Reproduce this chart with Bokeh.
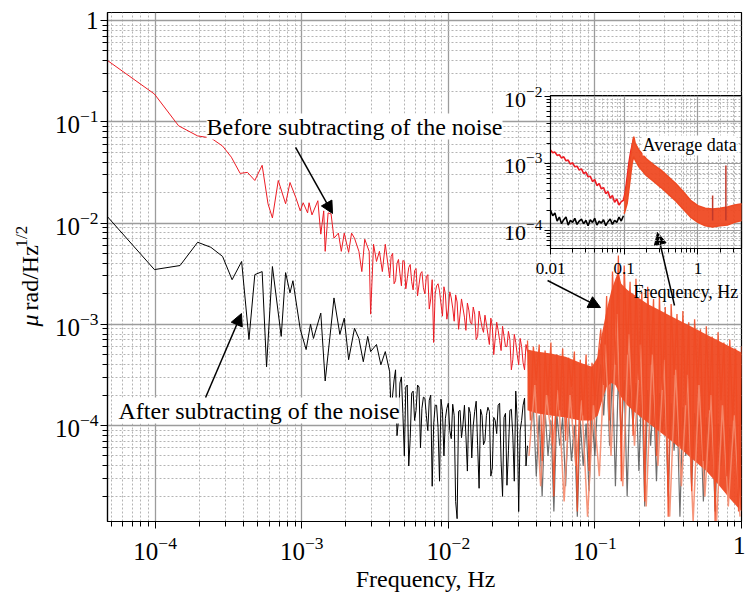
import numpy as np
from bokeh.plotting import figure
from bokeh.models import (FixedTicker, Label, Arrow, NormalHead)
from bokeh.embed import file_html
from bokeh.resources import INLINE

# ---------------- data (log10 values) ----------------
# "Before subtracting of the noise" (red), low-frequency part
before_logf = [-4.33,-4.005,-3.84,-3.71,-3.62,-3.54,-3.48,-3.42,-3.37,-3.32,-3.27,-3.23,-3.20,-3.16,-3.11,
               -3.08,-3.04,-3.01,-2.99,-2.96,-2.95,-2.93,-2.89,-2.87,-2.85,-2.84,-2.82,-2.80,-2.78,-2.75,
               -2.73,-2.71,-2.68,-2.66,-2.64,-2.61,-2.59,-2.57,-2.54,-2.53,-2.51,-2.49,-2.47,-2.45,-2.43]
before_logA = [-0.39,-0.726,-1.04,-1.14,-1.16,-1.24,-1.35,-1.51,-1.50,-1.58,-1.43,-1.81,-1.95,-1.58,-1.81,
               -1.60,-1.75,-1.88,-1.80,-1.90,-1.80,-1.92,-1.78,-2.11,-1.88,-2.28,-1.90,-1.91,-2.15,-2.10,
               -2.28,-2.10,-2.29,-2.10,-2.15,-2.28,-2.48,-2.16,-2.28,-2.90,-2.21,-2.38,-2.28,-2.48,-2.21]
# dense noisy part (frequency bins shared by both series)
dense_logf = [-2.40,-2.38,-2.36,-2.34,-2.32,-2.30,-2.28,-2.26,-2.24,-2.22,-2.20,-2.18,-2.16,-2.14,-2.12,-2.10,
              -2.08,-2.06,-2.04,-2.02,-2.00,-1.98,-1.96,-1.94,-1.92,-1.90,-1.88,-1.86,-1.84,-1.82,-1.80,-1.78,
              -1.76,-1.74,-1.72,-1.70,-1.68,-1.66,-1.64,-1.62,-1.60,-1.58,-1.56,-1.54,-1.52,-1.50,-1.48,-1.46]
dense2_logf = [-2.39,-2.37,-2.35,-2.33,-2.31,-2.29,-2.27,-2.25,-2.23,-2.21,-2.19,-2.17,-2.15,-2.13,-2.11,-2.09,
               -2.07,-2.05,-2.03,-2.01,-1.99,-1.97,-1.95,-1.93,-1.91,-1.89,-1.87,-1.85,-1.83,-1.81,-1.79,-1.77,
               -1.75,-1.73,-1.71,-1.69,-1.67,-1.65,-1.63,-1.61,-1.59,-1.57,-1.55,-1.53,-1.51,-1.49,-1.47]
before_dense_logA = [-2.54,-2.30,-2.57,-2.36,-2.62,-2.38,-2.55,-2.41,-2.66,-2.45,-2.61,-2.48,-2.70,-2.51,-2.75,-3.18,
                     -2.62,-2.67,-2.92,-2.70,-2.86,-2.74,-2.97,-2.78,-2.90,-2.84,-3.06,-2.86,-3.00,-2.90,-3.12,-2.95,
                     -3.08,-3.00,-3.20,-3.02,-3.14,-3.06,-3.26,-3.12,-3.22,-3.15,-3.35,-3.18,-3.40,-3.22,-3.45,-3.27]
before_dense2_logA = [-2.33,-2.60,-2.40,-2.50,-2.37,-2.65,-2.44,-2.58,-2.47,-2.72,-2.50,-2.64,-2.53,-2.85,-2.56,-2.70,
                      -2.60,-2.80,-2.63,-2.95,-2.68,-2.84,-2.71,-3.05,-2.75,-2.93,-2.79,-2.98,-2.83,-3.15,-2.87,-3.03,
                      -2.91,-3.10,-2.94,-3.30,-2.98,-3.16,-3.02,-3.22,-3.07,-3.45,-3.10,-3.30,-3.14,-3.38,-3.20]
# "After subtracting of the noise" (black)
after_logf = [-4.33,-4.005,-3.83,-3.71,-3.62,-3.54,-3.475,-3.41,-3.36,-3.32,-3.27,-3.24,-3.20,-3.14,-3.11,-3.08,
              -3.06,-3.01,-2.97,-2.94,-2.92,-2.87,-2.84,-2.80,-2.78,-2.74,-2.71,-2.68,-2.64,-2.61,-2.58,-2.55,
              -2.53,-2.49,-2.46,-2.43]
after_logA = [-1.93,-2.46,-2.42,-2.19,-2.24,-2.33,-2.56,-2.38,-3.15,-2.51,-2.48,-3.42,-2.43,-3.12,-2.49,-2.69,
              -2.57,-3.05,-3.25,-3.00,-3.14,-2.89,-3.56,-3.02,-2.74,-3.10,-2.94,-3.35,-3.04,-3.14,-3.37,-3.12,
              -3.27,-3.20,-3.40,-3.27]
after_dense_logA = [-3.47,-3.70,-3.45,-3.95,-3.52,-4.30,-3.60,-4.13,-3.66,-3.85,-3.62,-3.83,-3.73,-4.05,-3.70,-3.99,
                    -3.80,-4.55,-3.86,-3.93,-3.78,-4.13,-3.90,-4.92,-3.85,-3.99,-4.10,-3.82,-4.32,-3.86,-4.20,-3.84,
                    -4.19,-3.90,-3.86,-4.42,-3.95,-3.80,-4.35,-3.92,-4.59,-3.85,-4.10,-3.66,-4.85,-3.95,-3.73,-4.20]
after_dense2_logA = [-3.90,-3.55,-4.10,-3.58,-3.88,-3.62,-4.40,-3.68,-3.95,-3.60,-4.22,-3.72,-3.90,-3.75,-4.60,-3.80,
                     -4.02,-3.74,-4.30,-3.83,-4.05,-3.79,-4.75,-3.86,-4.12,-3.80,-4.45,-3.88,-4.00,-3.76,-4.62,-3.90,
                     -4.15,-3.82,-4.50,-3.92,-4.08,-3.78,-4.70,-3.88,-4.25,-3.84,-4.55,-3.95,-4.05,-3.80,-4.40]
# high-frequency "average data" bundle
avg_logf = [-1.46,-1.44,-1.42,-1.40,-1.38,-1.36,-1.34,-1.32,-1.30,-1.28,-1.26,-1.24,-1.22,-1.20,-1.18,-1.16,-1.14,
            -1.12,-1.10,-1.08,-1.06,-1.04,-1.02,-1.00,-0.98,-0.96,-0.94,-0.92,-0.90,-0.88,-0.86,-0.84,-0.82,-0.80,
            -0.78,-0.76,-0.74,-0.72,-0.70,-0.68,-0.66,-0.64,-0.62,-0.60,-0.58,-0.56,-0.54,-0.52,-0.50,-0.48,-0.46,
            -0.44,-0.42,-0.40,-0.38,-0.36,-0.34,-0.32,-0.30,-0.28,-0.26,-0.24,-0.22,-0.20,-0.18,-0.16,-0.14,-0.12,
            -0.10,-0.08,-0.06,-0.04,-0.02,0.00]
after_avg_logA = [-4.05,-3.80,-4.50,-3.90,-4.70,-3.85,-4.30,-3.95,-4.85,-3.88,-4.20,-3.92,-4.60,-3.90,-4.35,-4.00,
                  -4.90,-3.95,-4.40,-3.98,-4.65,-3.90,-4.30,
                  -3.70,-3.40,-3.90,-3.35,-4.20,-3.45,-4.60,-3.50,-4.10,-3.55,-4.70,-3.60,-4.00,-3.58,-4.45,-3.62,
                  -4.80,-3.65,-4.20,-3.70,-4.55,-3.68,-4.05,-3.75,-4.70,-3.78,-4.25,-3.80,-4.90,-3.82,-4.30,-3.85,
                  -4.60,-3.88,-4.15,-3.90,-4.75,-3.92,-4.35,-3.95,-4.85,-3.98,-4.40,-4.00,-4.65,-4.02,-4.30,-4.05,
                  -4.80,-4.05]
before_avg_logA = [-3.16,-3.95,-3.22,-3.55,-3.20,-4.35,-3.26,-3.70,-3.18,-4.70,-3.30,-3.85,-3.24,-4.15,-3.33,-3.62,
                   -3.27,-4.85,-3.35,-3.90,-3.30,-4.45,-3.38,-3.75,-3.34,
                   -3.05,-3.60,-2.72,-3.95,-2.48,-3.40,-2.32,-4.55,-2.42,-3.30,-2.58,-4.10,-2.55,-3.55,-2.68,-4.75,
                   -2.63,-3.40,-2.75,-4.30,-2.72,-3.65,-2.83,-4.90,-2.80,-3.50,-2.90,-4.20,-2.87,-3.80,-2.98,-4.65,
                   -2.95,-3.60,-3.05,-4.35,-3.02,-3.85,-3.12,-4.95,-3.08,-3.75,-3.18,-4.50,-3.15,-3.95,-3.24,-4.85,
                   -3.22]
light_logf = [-1.45,-1.41,-1.37,-1.33,-1.29,-1.25,-1.21,-1.17,-1.13,-1.09,-1.05,-1.01,-0.97,-0.93,-0.89,-0.85,
              -0.81,-0.77,-0.73,-0.69,-0.65,-0.61,-0.57,-0.53,-0.49,-0.45,-0.41,-0.37,-0.33,-0.29,-0.25,-0.21,
              -0.17,-0.13,-0.09,-0.05,-0.01]
light_logA = [-4.30,-3.60,-4.60,-3.70,-4.20,-3.65,-4.75,-3.70,-4.40,-3.75,-4.90,-3.80,-4.50,-3.20,-4.30,-2.90,
              -4.60,-3.10,-4.20,-3.20,-4.80,-3.30,-4.40,-3.35,-4.90,-3.45,-4.60,-3.50,-4.95,-3.60,-4.70,-3.70,
              -4.95,-3.80,-4.80,-3.90,-4.90]
band_logf = [-1.46,-1.40,-1.30,-1.20,-1.10,-1.02,-0.98,-0.95,-0.92,-0.89,-0.86,-0.84,-0.82,-0.78,-0.72,-0.64,
             -0.56,-0.48,-0.40,-0.32,-0.24,-0.16,-0.08,0.00]
band_hi_logA = [-3.25,-3.27,-3.29,-3.32,-3.38,-3.42,-3.32,-3.08,-2.86,-2.68,-2.55,-2.48,-2.60,-2.66,-2.72,-2.80,
                -2.86,-2.92,-2.98,-3.04,-3.10,-3.16,-3.22,-3.28]
band_lo_logA = [-3.85,-3.88,-3.90,-3.92,-3.95,-3.95,-3.90,-3.75,-3.62,-3.58,-3.60,-3.66,-3.72,-3.80,-3.88,-3.97,
                -4.06,-4.15,-4.25,-4.35,-4.45,-4.58,-4.72,-4.85]

# inset: averaged spectra
ins_logf = [-2.00,-1.97,-1.94,-1.91,-1.88,-1.85,-1.82,-1.79,-1.76,-1.73,-1.70,-1.67,-1.64,-1.61,-1.58,-1.55,-1.52,
            -1.49,-1.46,-1.43,-1.40,-1.37,-1.34,-1.31,-1.28,-1.25,-1.22,-1.19,-1.16,-1.13,-1.10,-1.07,-1.04,-1.01]
ins_before_logA = [-2.80,-2.84,-2.83,-2.88,-2.87,-2.92,-2.90,-2.96,-2.95,-3.01,-2.99,-3.05,-3.04,-3.10,-3.08,-3.15,
                   -3.13,-3.20,-3.19,-3.27,-3.24,-3.33,-3.30,-3.38,-3.36,-3.45,-3.42,-3.52,-3.48,-3.58,-3.53,-3.62,
                   -3.57,-3.55]
ins_rise_logf = [-0.99,-0.97,-0.95,-0.93,-0.91,-0.89,-0.87]
ins_rise_logA = [-3.45,-3.30,-3.12,-2.95,-2.82,-2.72,-2.62]
ins_after_logA = [-3.70,-3.78,-3.74,-3.86,-3.80,-3.90,-3.84,-3.80,-3.92,-3.85,-3.88,-3.82,-3.91,-3.86,-3.83,-3.90,
                  -3.85,-3.93,-3.84,-3.88,-3.82,-3.92,-3.86,-3.89,-3.84,-3.93,-3.87,-3.83,-3.91,-3.85,-3.88,-3.80,
                  -3.86,-3.78]
ins_band_logf = [-1.00,-0.96,-0.92,-0.89,-0.87,-0.85,-0.80,-0.70,-0.60,-0.50,-0.40,-0.30,-0.20,-0.10,0.00,0.10,
                 0.20,0.30,0.40,0.50,0.60]
ins_band_hi = [-3.55,-3.30,-2.95,-2.72,-2.60,-2.70,-2.80,-2.93,-3.02,-3.10,-3.20,-3.30,-3.42,-3.55,-3.63,-3.67,
               -3.68,-3.67,-3.65,-3.62,-3.60]
ins_band_lo = [-3.75,-3.60,-3.25,-2.98,-2.90,-2.95,-3.05,-3.18,-3.27,-3.36,-3.46,-3.56,-3.68,-3.80,-3.88,-3.93,
               -3.95,-3.93,-3.92,-3.88,-3.85]
ins_spike_logf = [0.20, 0.38]
ins_spike_top = [-3.48, -3.03]
ins_spike_base = [-3.85, -3.85]

# tick values / labels
main_x_ticks = [1e-4, 1e-3, 1e-2, 1e-1, 1.0]
main_y_ticks = [1e-4, 1e-3, 1e-2, 1e-1, 1.0]
ins_x_ticks = [0.01, 0.1, 1.0]
ins_x_labels = ["0.01", "0.1", "1"]
ins_y_ticks = [1e-4, 1e-3, 1e-2]

RED = "#ec1c24"
ORANGE = "#ef4a23"
FONT = "Liberation Serif"

def p10(a):
    return list(10.0 ** np.array(a, dtype=float))

def merged(f1, a1, f2, a2):
    order = np.argsort(np.array(f1 + f2))
    return list(np.array(f1 + f2)[order]), list(np.array(a1 + a2)[order])

def minors(decades, lo, hi):
    out = []
    for d in decades:
        for m in range(2, 10):
            v = m * 10.0 ** d
            if lo <= v <= hi:
                out.append(v)
    return out

W, H = 737, 587
ABS = {"position": "absolute", "left": "8px", "top": "8px"}

# ---------------- main figure ----------------
p = figure(width=W, height=H, x_axis_type="log", y_axis_type="log",
           x_range=(10 ** -4.325, 1.0), y_range=(10 ** -4.948, 10 ** 0.079),
           output_backend="svg", toolbar_location=None,
           min_border_left=99, min_border_right=4, min_border_top=4, min_border_bottom=74,
           background_fill_color="white", border_fill_color="white")
p.styles = ABS
p.outline_line_color = "black"
p.outline_line_width = 1.2

for ax, ticks, lo, hi in ((p.xaxis[0], main_x_ticks, 10 ** -4.325, 1.0),
                          (p.yaxis[0], main_y_ticks, 10 ** -4.948, 1.2)):
    ax.ticker = FixedTicker(ticks=ticks, minor_ticks=minors(range(-5, 1), lo, hi))
    ax.major_label_overrides = {1.0: "1"}
    ax.major_label_text_font = FONT
    ax.major_label_text_font_size = "25px"
    ax.major_label_text_color = "black"
    ax.axis_line_color = "black"
    ax.axis_line_width = 1.2
    ax.major_tick_line_color = "black"
    ax.minor_tick_line_color = "black"
    ax.major_tick_in = 0
    ax.minor_tick_in = 0
    ax.major_tick_out = 7
    ax.minor_tick_out = 5
p.xaxis.major_label_standoff = 8
p.yaxis.major_label_standoff = 2

for g in (p.xgrid[0], p.ygrid[0]):
    g.grid_line_color = "#9c9c9c"
    g.grid_line_width = 1.3
    g.minor_grid_line_color = "#b4b4b4"
    g.minor_grid_line_dash = "2 2"
    g.minor_grid_line_width = 1

# data
bd_f, bd_a = merged(dense_logf, before_dense_logA, dense2_logf, before_dense2_logA)
ad_f, ad_a = merged(dense_logf, after_dense_logA, dense2_logf, after_dense2_logA)
gray_logf = avg_logf[1:]
p.line(p10(gray_logf), p10(after_avg_logA), line_color="#555555", line_width=1.2, line_alpha=0.85)
p.line(p10(after_logf + ad_f), p10(after_logA + ad_a), line_color="black", line_width=1)
p.line(p10(before_logf + bd_f), p10(before_logA + bd_a), line_color=RED, line_width=1)
p.varea(x=p10(band_logf), y1=p10(band_lo_logA), y2=p10(band_hi_logA), fill_color=ORANGE, fill_alpha=0.95)
p.line(p10(light_logf), p10(light_logA), line_color="#f58a6c", line_width=1.5, line_alpha=0.9)
p.line(p10(avg_logf), p10(before_avg_logA), line_color=ORANGE, line_width=1.3, line_alpha=0.9)

# annotations
p.add_layout(Label(x=10 ** -3.649, y=10 ** -1.047, text="Before subtracting of the noise",
                   text_font=FONT, text_font_size="24px", text_align="left", text_baseline="middle",
                   text_color="black", background_fill_color="white"))
p.add_layout(Label(x=10 ** -4.25, y=10 ** -3.852, text="After subtracting of the noise",
                   text_font=FONT, text_font_size="24px", text_align="left", text_baseline="middle",
                   text_color="black", background_fill_color="white"))
for (x0, y0, x1, y1) in ((-3.042, -1.254, -2.790, -1.906),
                         (-3.656, -3.723, -3.411, -2.894),
                         (-1.323, -2.568, -0.962, -2.835),
                         (-0.457, -2.815, -0.573, -2.094)):
    p.add_layout(Arrow(end=NormalHead(size=12, fill_color="black", line_color="black"),
                       x_start=10 ** x0, y_start=10 ** y0, x_end=10 ** x1, y_end=10 ** y1,
                       line_color="black", line_width=1.5))

# ---------------- inset figure (overlaid) ----------------
q = figure(width=W, height=H, x_axis_type="log", y_axis_type="log",
           x_range=(0.01, 10 ** 0.592), y_range=(10 ** -4.27, 10 ** -1.985),
           output_backend="svg", toolbar_location=None,
           min_border_left=542, min_border_right=4, min_border_top=87, min_border_bottom=347,
           background_fill_color=None, border_fill_color=None)
q.styles = ABS
q.outline_line_color = "black"
q.outline_line_width = 1.2
q.xaxis.ticker = FixedTicker(ticks=ins_x_ticks, minor_ticks=minors(range(-2, 1), 0.01, 3.9))
q.yaxis.ticker = FixedTicker(ticks=ins_y_ticks, minor_ticks=minors(range(-5, -1), 5.3e-5, 0.0104))
q.xaxis.major_label_overrides = dict(zip(ins_x_ticks, ins_x_labels))
q.xaxis.major_label_text_font_size = "17px"
q.yaxis.major_label_text_font_size = "22px"
q.xaxis.major_label_standoff = 8
q.yaxis.major_label_standoff = 2
for ax in (q.xaxis[0], q.yaxis[0]):
    ax.major_label_text_font = FONT
    ax.major_label_text_color = "black"
    ax.axis_line_color = "black"
    ax.major_tick_line_color = "black"
    ax.minor_tick_line_color = "black"
    ax.major_tick_in = 0
    ax.minor_tick_in = 0
    ax.major_tick_out = 6
    ax.minor_tick_out = 4
for g in (q.xgrid[0], q.ygrid[0]):
    g.grid_line_color = "#9c9c9c"
    g.grid_line_width = 1.2
    g.minor_grid_line_color = "#b4b4b4"
    g.minor_grid_line_dash = "2 2"
    g.minor_grid_line_width = 1

q.line(p10(ins_logf), p10(ins_after_logA), line_color="black", line_width=1.6)
q.line(p10(ins_logf + ins_rise_logf), p10(ins_before_logA + ins_rise_logA), line_color=RED, line_width=1.6)
q.varea(x=p10(ins_band_logf), y1=p10(ins_band_lo), y2=p10(ins_band_hi), fill_color=ORANGE, fill_alpha=0.95)
q.line(p10(ins_band_logf), p10(ins_band_hi), line_color=ORANGE, line_width=1.5)
q.line(p10(ins_band_logf), p10(ins_band_lo), line_color=ORANGE, line_width=1.5)
q.segment(x0=p10(ins_spike_logf), y0=p10(ins_spike_base), x1=p10(ins_spike_logf), y1=p10(ins_spike_top),
          line_color="#c0392b", line_width=1.5)
q.add_layout(Label(x=10 ** -0.75, y=10 ** -2.73, text="Average data",
                   text_font=FONT, text_font_size="18px", text_align="left", text_baseline="middle",
                   text_color="black", background_fill_color="white"))

# ---------------- overlay for texts outside the frames (pixel coordinates) ----------------
t = figure(width=W, height=H, x_range=(0, W), y_range=(H, 0), x_axis_location=None, y_axis_location=None,
           output_backend="svg", toolbar_location=None, min_border=0,
           background_fill_color=None, border_fill_color=None)
t.styles = ABS
t.outline_line_color = None
t.grid.visible = False

t.add_layout(Label(x=417, y=570, text="Frequency, Hz", text_font=FONT, text_font_size="24px",
                   text_align="center", text_baseline="alphabetic", text_color="black"))
t.add_layout(Label(x=21, y=318, text="μ", angle=np.pi / 2, text_font=FONT, text_font_size="24px",
                   text_font_style="italic", text_align="left", text_baseline="alphabetic", text_color="black"))
t.add_layout(Label(x=21, y=302, text="rad/Hz", angle=np.pi / 2, text_font=FONT, text_font_size="24px",
                   text_align="left", text_baseline="alphabetic", text_color="black"))
t.add_layout(Label(x=13, y=239, text="1/2", angle=np.pi / 2, text_font=FONT, text_font_size="17px",
                   text_align="left", text_baseline="alphabetic", text_color="black"))
t.add_layout(Label(x=625, y=283, text="Frequency, Hz", text_font=FONT, text_font_size="18px",
                   text_align="left", text_baseline="alphabetic", text_color="black"))

open("out.html", "w").write(file_html([p, q, t], INLINE))
